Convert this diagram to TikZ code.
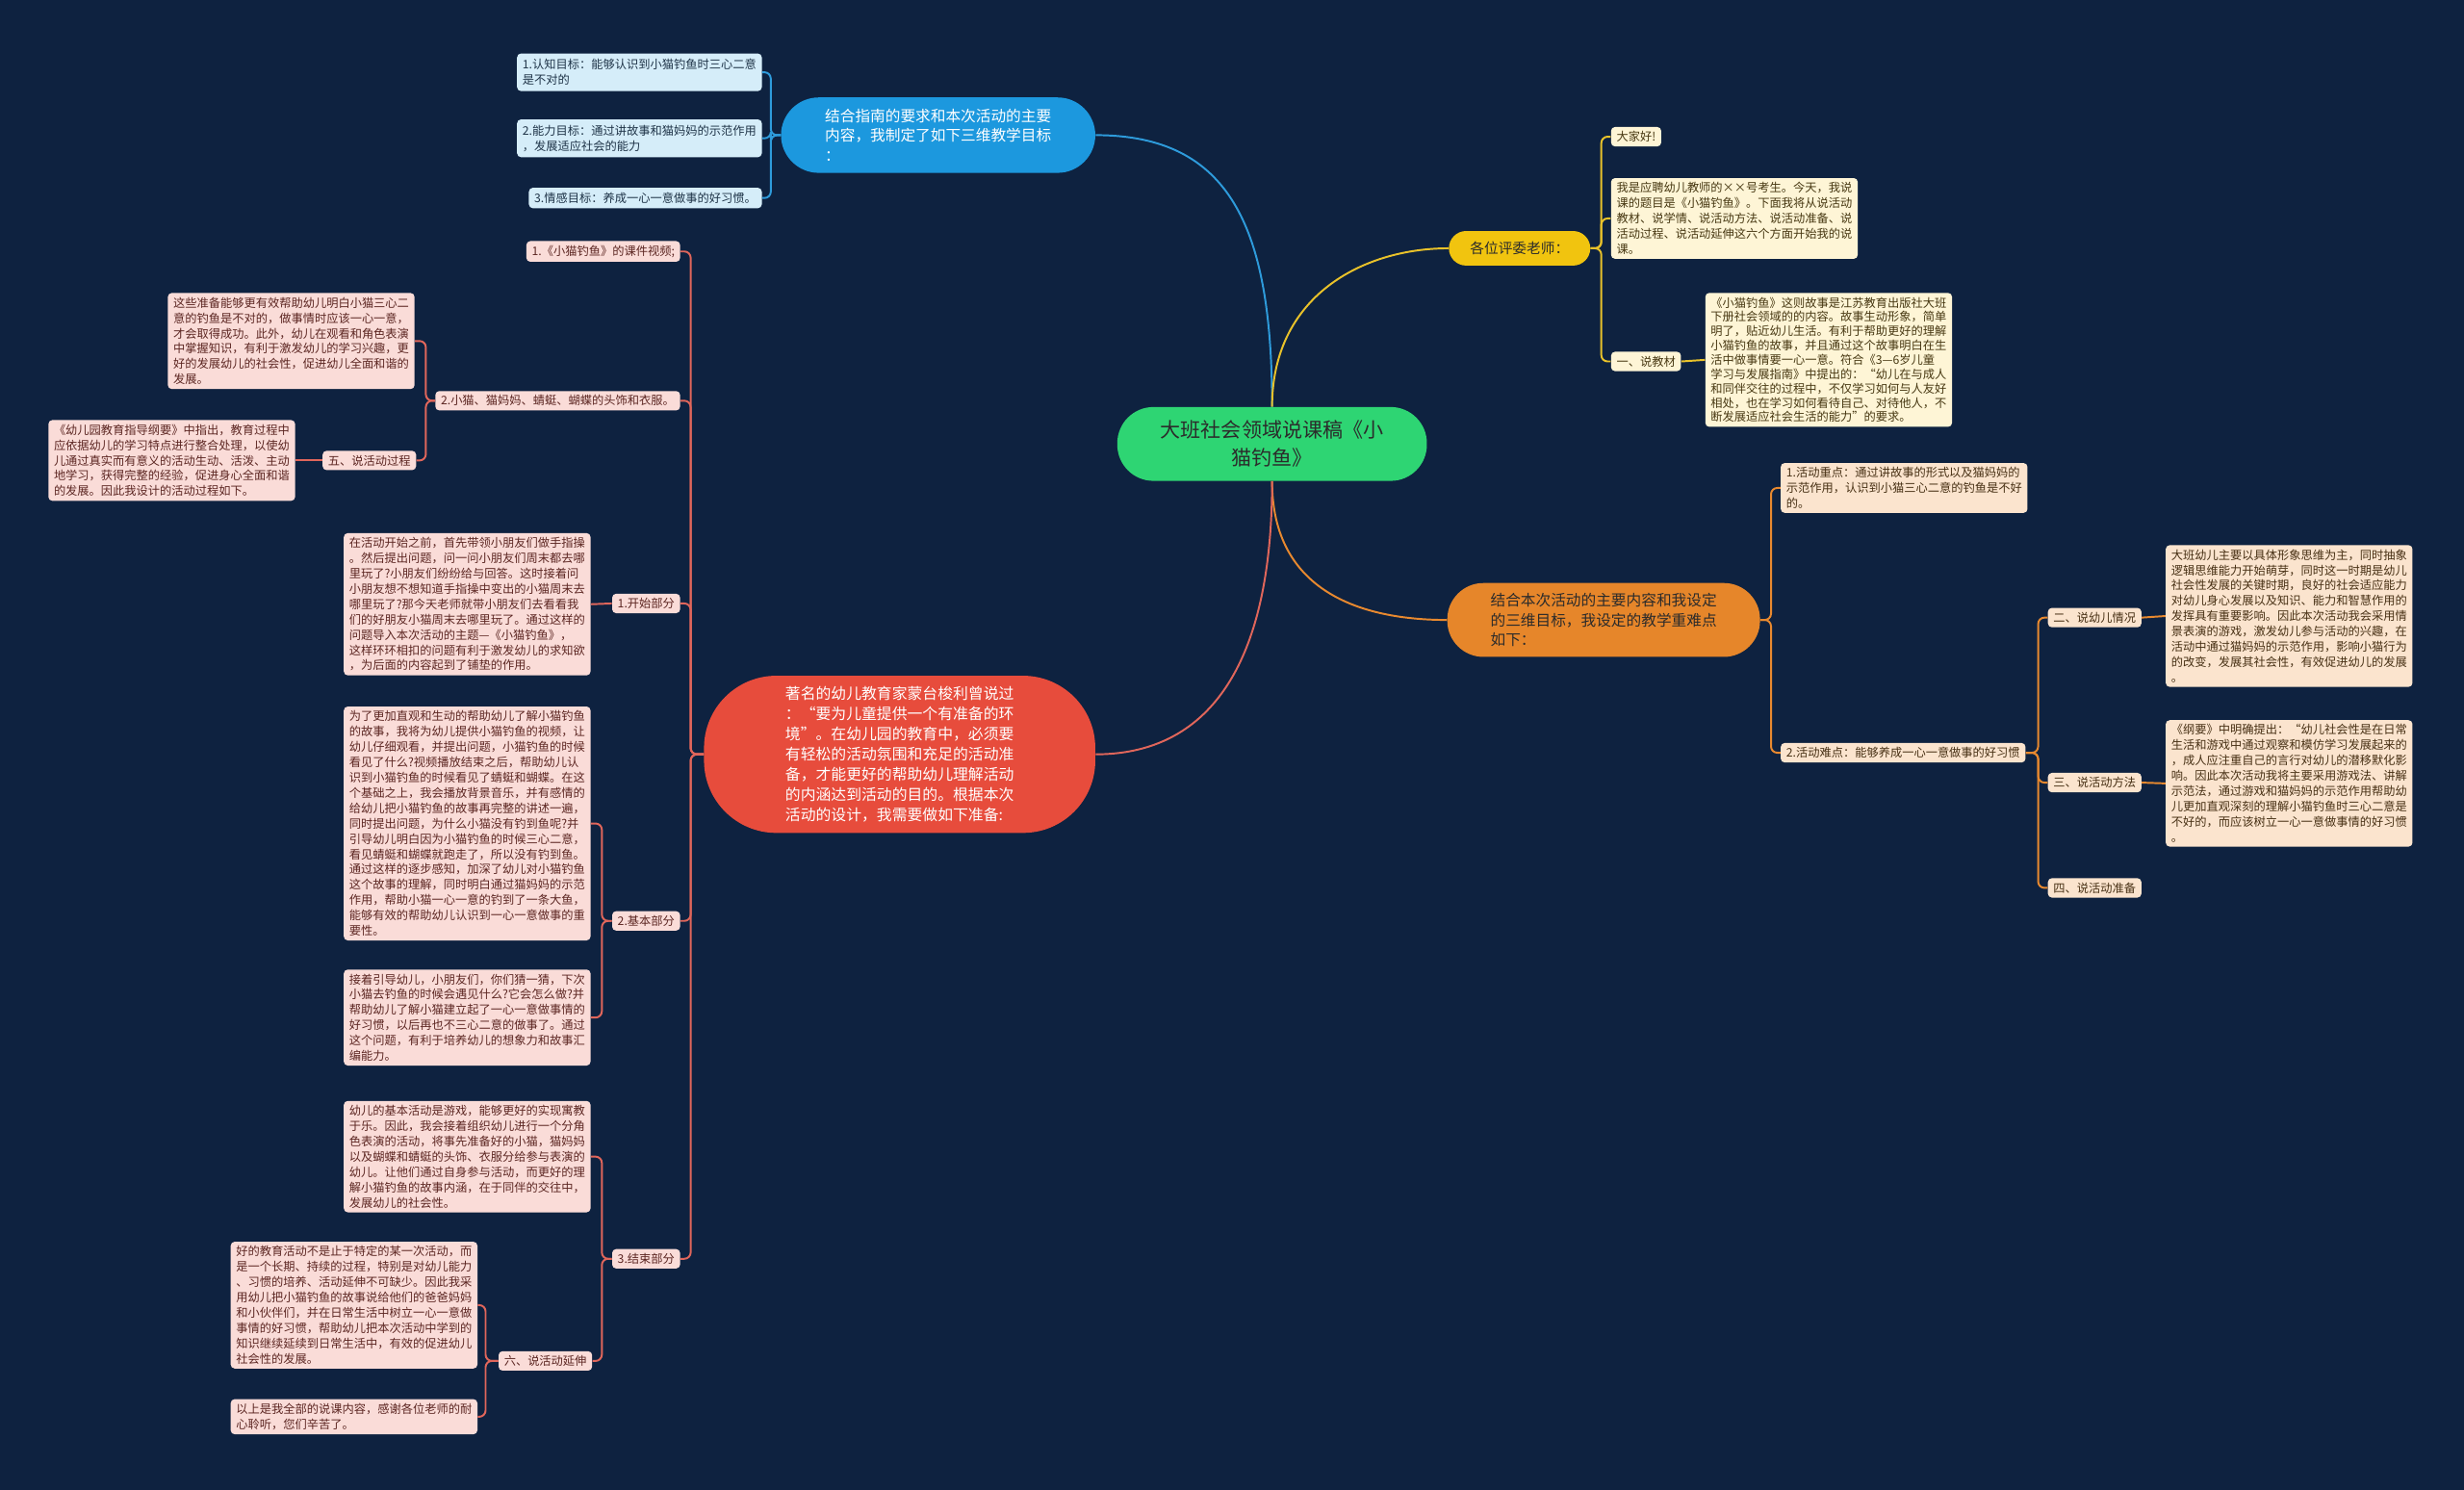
\documentclass[tikz,border=0pt]{standalone}
\usepackage{fontspec}
\setmainfont{Noto Sans CJK SC}
\usetikzlibrary{calc}
\definecolor{bg}{HTML}{0E2240}
\definecolor{rfill}{HTML}{FADCD8}
\definecolor{rtext}{HTML}{5C2622}
\definecolor{rcol}{HTML}{E0665B}
\definecolor{rmain}{HTML}{E74C3C}
\definecolor{bfill}{HTML}{D5EDF9}
\definecolor{btext}{HTML}{1F3448}
\definecolor{bcol}{HTML}{2E9BDB}
\definecolor{bmain}{HTML}{1C98DE}
\definecolor{yfill}{HTML}{FEF5D6}
\definecolor{ytext}{HTML}{473812}
\definecolor{ycol}{HTML}{E9C22A}
\definecolor{ymain}{HTML}{F1C40F}
\definecolor{ofill}{HTML}{FBE4CE}
\definecolor{otext}{HTML}{473014}
\definecolor{ocol}{HTML}{E8892F}
\definecolor{omain}{HTML}{E6862A}
\definecolor{gmain}{HTML}{2ED573}
\definecolor{dtext}{HTML}{2B2B2B}
\tikzset{
  lf/.style={rounded corners=2.5pt, inner xsep=3.5pt, inner ysep=2.7pt, align=left, font=\fontsize{7.5}{9.75}\selectfont},
  rl/.style={lf, fill=rfill, text=rtext},
  bl/.style={lf, fill=bfill, text=btext, inner ysep=3.6pt},
  yl/.style={lf, fill=yfill, text=ytext},
  ol/.style={lf, fill=ofill, text=otext},
  redc/.style={draw=rcol, line width=1.2pt, rounded corners=4pt},
  bluec/.style={draw=bcol, line width=1.2pt, rounded corners=4pt},
  yelc/.style={draw=ycol, line width=1.2pt, rounded corners=4pt},
  orac/.style={draw=ocol, line width=1.2pt, rounded corners=4pt},
  mainnode/.style={align=left, inner sep=0pt}
}
\begin{document}
\begin{tikzpicture}[x=1pt,y=-1pt]
\fill[bg] (0,0) rectangle (1568,948);
\useasboundingbox (0,0) rectangle (1568,948);

% ===== central =====
\node[mainnode, fill=gmain, text=dtext, rounded corners=23pt, minimum width=197pt, minimum height=47pt, align=center, font=\fontsize{12.9}{18}\selectfont] (root) at (809.5,282.5) {大班社会领域说课稿《小\\猫钓鱼》};

% ===== blue branch =====
\node[mainnode, fill=bmain, text=white, rounded corners=24pt, minimum width=200pt, minimum height=48pt, font=\fontsize{9.6}{12.8}\selectfont] (blue) at (597,86) {结合指南的要求和本次活动的主要\\内容，我制定了如下三维教学目标\\：};
\node[bl, anchor=east] (b1) at (485,46) {1.认知目标：能够认识到小猫钓鱼时三心二意\\是不对的};
\node[bl, anchor=east] (b2) at (485,88) {2.能力目标：通过讲故事和猫妈妈的示范作用\\，发展适应社会的能力};
\node[bl, anchor=east, inner ysep=3pt] (b3) at (485,126) {3.情感目标：养成一心一意做事的好习惯。};
\coordinate (bb) at (490.5,0);
\foreach \c in {b1,b2,b3} \draw[bluec] (blue.west) -- (blue.west -| bb) |- (\c.east);
\draw[bluec] (root.north) .. controls ($(root.north)+(0,-115)$) and ($(blue.east)+(85,0)$) .. (blue.east);

% ===== yellow branch =====
\node[mainnode, fill=ymain, text=dtext, rounded corners=11pt, minimum width=90pt, minimum height=22pt, align=center, font=\fontsize{9}{11}\selectfont] (yel) at (967,158) {各位评委老师：};
\node[yl, anchor=west] (y1) at (1025,87) {大家好!};
\node[yl, anchor=west] (y2) at (1025,139) {我是应聘幼儿教师的××号考生。今天，我说\\课的题目是《小猫钓鱼》。下面我将从说活动\\教材、说学情、说活动方法、说活动准备、说\\活动过程、说活动延伸这六个方面开始我的说\\课。};
\node[yl, anchor=west] (y3) at (1025,230) {一、说教材};
\node[yl, anchor=west, font=\fontsize{7.5}{9.1}\selectfont] (y4) at (1085,229) {《小猫钓鱼》这则故事是江苏教育出版社大班\\下册社会领域的的内容。故事生动形象，简单\\明了，贴近幼儿生活。有利于帮助更好的理解\\小猫钓鱼的故事，并且通过这个故事明白在生\\活中做事情要一心一意。符合《3—6岁儿童\\学习与发展指南》中提出的：“幼儿在与成人\\和同伴交往的过程中，不仅学习如何与人友好\\相处，也在学习如何看待自己、对待他人，不\\断发展适应社会生活的能力”的要求。};
\coordinate (yb) at (1019,0);
\foreach \c in {y1,y2,y3} \draw[yelc] (yel.east) -- (yel.east -| yb) |- (\c.west);
\draw[yelc] (y3.east) -- (y4.west);
\draw[yelc] (root.north) .. controls ($(root.north)+(0,-70)$) and ($(yel.west)+(-55,0)$) .. (yel.west);

% ===== orange branch =====
\node[mainnode, fill=omain, text=dtext, rounded corners=23pt, minimum width=199pt, minimum height=47pt, font=\fontsize{9.6}{12.8}\selectfont] (ora) at (1020.5,394.5) {结合本次活动的主要内容和我设定\\的三维目标，我设定的教学重难点\\如下：};
\node[ol, anchor=west] (o1) at (1133,310.5) {1.活动重点：通过讲故事的形式以及猫妈妈的\\示范作用，认识到小猫三心二意的钓鱼是不好\\的。};
\node[ol, anchor=west] (o2) at (1133,479) {2.活动难点：能够养成一心一意做事的好习惯};
\node[ol, anchor=west] (o3) at (1303,393) {二、说幼儿情况};
\node[ol, anchor=west] (o4) at (1303,498) {三、说活动方法};
\node[ol, anchor=west] (o5) at (1303,565) {四、说活动准备};
\node[ol, anchor=west] (o3a) at (1378,392) {大班幼儿主要以具体形象思维为主，同时抽象\\逻辑思维能力开始萌芽，同时这一时期是幼儿\\社会性发展的关键时期，良好的社会适应能力\\对幼儿身心发展以及知识、能力和智慧作用的\\发挥具有重要影响。因此本次活动我会采用情\\景表演的游戏，激发幼儿参与活动的兴趣，在\\活动中通过猫妈妈的示范作用，影响小猫行为\\的改变，发展其社会性，有效促进幼儿的发展\\。};
\node[ol, anchor=west] (o4a) at (1378,498.5) {《纲要》中明确提出：“幼儿社会性是在日常\\生活和游戏中通过观察和模仿学习发展起来的\\，成人应注重自己的言行对幼儿的潜移默化影\\响。因此本次活动我将主要采用游戏法、讲解\\示范法，通过游戏和猫妈妈的示范作用帮助幼\\儿更加直观深刻的理解小猫钓鱼时三心二意是\\不好的，而应该树立一心一意做事情的好习惯\\。};
\coordinate (ob1) at (1127,0);
\coordinate (ob2) at (1297,0);
\foreach \c in {o1,o2} \draw[orac] (ora.east) -- (ora.east -| ob1) |- (\c.west);
\foreach \c in {o3,o4,o5} \draw[orac] (o2.east) -- (o2.east -| ob2) |- (\c.west);
\draw[orac] (o3.east) -- (o3a.west);
\draw[orac] (o4.east) -- (o4a.west);
\draw[orac] (root.south) .. controls ($(root.south)+(0,70)$) and ($(ora.west)+(-55,0)$) .. (ora.west);

% ===== red branch =====
\node[mainnode, fill=rmain, text=white, rounded corners=46pt, minimum width=249pt, minimum height=100pt, font=\fontsize{9.7}{12.8}\selectfont] (red) at (572.5,480) {著名的幼儿教育家蒙台梭利曾说过\\：“要为儿童提供一个有准备的环\\境”。在幼儿园的教育中，必须要\\有轻松的活动氛围和充足的活动准\\备，才能更好的帮助幼儿理解活动\\的内涵达到活动的目的。根据本次\\活动的设计，我需要做如下准备:};
\node[rl, anchor=east] (r1) at (433,160) {1.《小猫钓鱼》的课件视频;};
\node[rl, anchor=east] (r2) at (433,255) {2.小猫、猫妈妈、蜻蜓、蝴蝶的头饰和衣服。};
\node[rl, anchor=east] (r3) at (433,384) {1.开始部分};
\node[rl, anchor=east] (r4) at (433,586) {2.基本部分};
\node[rl, anchor=east] (r5) at (433,801) {3.结束部分};
\node[rl, anchor=east] (r2a) at (264,217) {这些准备能够更有效帮助幼儿明白小猫三心二\\意的钓鱼是不对的，做事情时应该一心一意，\\才会取得成功。此外，幼儿在观看和角色表演\\中掌握知识，有利于激发幼儿的学习兴趣，更\\好的发展幼儿的社会性，促进幼儿全面和谐的\\发展。};
\node[rl, anchor=east] (r2b) at (265,293) {五、说活动过程};
\node[rl, anchor=east] (r2b1) at (188,293) {《幼儿园教育指导纲要》中指出，教育过程中\\应依据幼儿的学习特点进行整合处理，以使幼\\儿通过真实而有意义的活动生动、活泼、主动\\地学习，获得完整的经验，促进身心全面和谐\\的发展。因此我设计的活动过程如下。};
\node[rl, anchor=east] (r3a) at (376,384.5) {在活动开始之前，首先带领小朋友们做手指操\\。然后提出问题，问一问小朋友们周末都去哪\\里玩了?小朋友们纷纷给与回答。这时接着问\\小朋友想不想知道手指操中变出的小猫周末去\\哪里玩了?那今天老师就带小朋友们去看看我\\们的好朋友小猫周末去哪里玩了。通过这样的\\问题导入本次活动的主题—《小猫钓鱼》，\\这样环环相扣的问题有利于激发幼儿的求知欲\\，为后面的内容起到了铺垫的作用。};
\node[rl, anchor=east] (r4a) at (376,524) {为了更加直观和生动的帮助幼儿了解小猫钓鱼\\的故事，我将为幼儿提供小猫钓鱼的视频，让\\幼儿仔细观看，并提出问题，小猫钓鱼的时候\\看见了什么?视频播放结束之后，帮助幼儿认\\识到小猫钓鱼的时候看见了蜻蜓和蝴蝶。在这\\个基础之上，我会播放背景音乐，并有感情的\\给幼儿把小猫钓鱼的故事再完整的讲述一遍，\\同时提出问题，为什么小猫没有钓到鱼呢?并\\引导幼儿明白因为小猫钓鱼的时候三心二意，\\看见蜻蜓和蝴蝶就跑走了，所以没有钓到鱼。\\通过这样的逐步感知，加深了幼儿对小猫钓鱼\\这个故事的理解，同时明白通过猫妈妈的示范\\作用，帮助小猫一心一意的钓到了一条大鱼，\\能够有效的帮助幼儿认识到一心一意做事的重\\要性。};
\node[rl, anchor=east] (r4b) at (376,647.5) {接着引导幼儿，小朋友们，你们猜一猜，下次\\小猫去钓鱼的时候会遇见什么?它会怎么做?并\\帮助幼儿了解小猫建立起了一心一意做事情的\\好习惯，以后再也不三心二意的做事了。通过\\这个问题，有利于培养幼儿的想象力和故事汇\\编能力。};
\node[rl, anchor=east] (r5a) at (376,736) {幼儿的基本活动是游戏，能够更好的实现寓教\\于乐。因此，我会接着组织幼儿进行一个分角\\色表演的活动，将事先准备好的小猫，猫妈妈\\以及蝴蝶和蜻蜓的头饰、衣服分给参与表演的\\幼儿。让他们通过自身参与活动，而更好的理\\解小猫钓鱼的故事内涵，在于同伴的交往中，\\发展幼儿的社会性。};
\node[rl, anchor=east] (r5b) at (377,866) {六、说活动延伸};
\node[rl, anchor=east] (r5b1) at (304,830.5) {好的教育活动不是止于特定的某一次活动，而\\是一个长期、持续的过程，特别是对幼儿能力\\、习惯的培养、活动延伸不可缺少。因此我采\\用幼儿把小猫钓鱼的故事说给他们的爸爸妈妈\\和小伙伴们，并在日常生活中树立一心一意做\\事情的好习惯，帮助幼儿把本次活动中学到的\\知识继续延续到日常生活中，有效的促进幼儿\\社会性的发展。};
\node[rl, anchor=east] (r5b2) at (304,901.5) {以上是我全部的说课内容，感谢各位老师的耐\\心聆听，您们辛苦了。};

\coordinate (rb) at (439.5,0);
\coordinate (rb2) at (271,0);
\coordinate (rb4) at (383,0);
\coordinate (rb5) at (309,0);
\foreach \c in {r1,r2,r3,r4,r5} \draw[redc] (red.west) -- (red.west -| rb) |- (\c.east);
\foreach \c in {r2a,r2b} \draw[redc] (r2.west) -- (r2.west -| rb2) |- (\c.east);
\draw[redc] (r2b.west) -- (r2b1.east);
\draw[redc] (r3.west) -- (r3a.east);
\foreach \c in {r4a,r4b} \draw[redc] (r4.west) -- (r4.west -| rb4) |- (\c.east);
\foreach \c in {r5a,r5b} \draw[redc] (r5.west) -- (r5.west -| rb4) |- (\c.east);
\foreach \c in {r5b1,r5b2} \draw[redc] (r5b.west) -- (r5b.west -| rb5) |- (\c.east);
\draw[redc] (root.south) .. controls ($(root.south)+(0,120)$) and ($(red.east)+(70,0)$) .. (red.east);
\end{tikzpicture}
\end{document}
